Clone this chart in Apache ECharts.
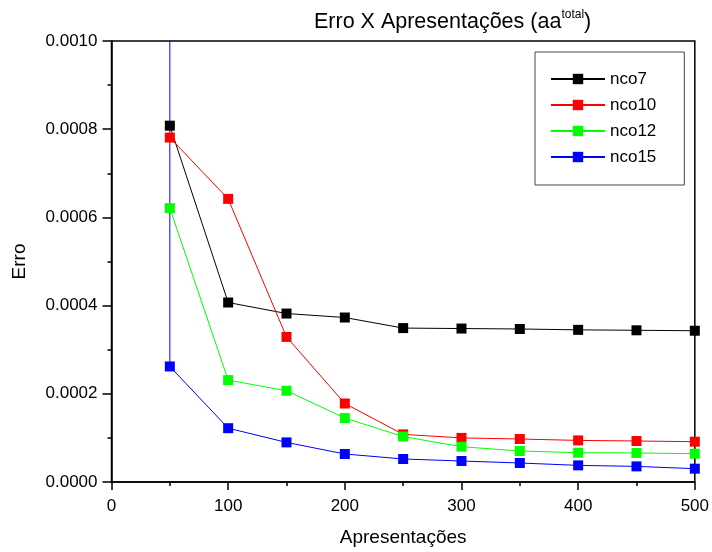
<!DOCTYPE html>
<html>
<head>
<meta charset="utf-8">
<script src="https://cdn.jsdelivr.net/npm/echarts@6/dist/echarts.min.js"></script>
<style>
  html, body { margin: 0; padding: 0; background: #fff; }
  #chart { width: 712px; height: 552px; }
</style>
</head>
<body>
<div id="chart"></div>
<script>
// x values (Apresentações)
var apresentacoes = [50, 100, 150, 200, 250, 300, 350, 400, 450, 500];

// erro per series
var nco7  = [0.000808, 0.000407, 0.000382, 0.000373, 0.000349, 0.000348, 0.000347, 0.000345, 0.000344, 0.000343];
var nco10 = [0.000781, 0.000642, 0.000329, 0.000178, 0.000108, 0.000100, 0.0000975, 0.0000943, 0.000093, 0.0000914];
var nco12 = [0.000621, 0.000231, 0.000207, 0.000145, 0.000103, 0.000080, 0.0000703, 0.0000664, 0.0000658, 0.0000642];
var nco15 = [0.000262, 0.000122, 0.0000898, 0.0000635, 0.0000522, 0.0000476, 0.0000431, 0.0000377, 0.0000354, 0.0000302];
// nco15 starts off the top of the plot at x = 50 (vertical line)
var nco15Start = [50, 0.0012];

var seriesNames = ['nco7', 'nco10', 'nco12', 'nco15'];
var seriesColors = ['#000000', '#ff0000', '#00ff00', '#0000ff'];

var xTicks = { min: 0, max: 500, interval: 100 };
var yTicks = { min: 0, max: 0.001, interval: 0.0002 };

function pairs(xs, ys) {
    return xs.map(function (x, i) { return [x, ys[i]]; });
}

var chart = echarts.init(document.getElementById('chart'), null, { renderer: 'canvas' });

var font = 'Liberation Sans, Arial, sans-serif';

var allData = [
    pairs(apresentacoes, nco7),
    pairs(apresentacoes, nco10),
    pairs(apresentacoes, nco12),
    [nco15Start].concat(pairs(apresentacoes, nco15))
];

var option = {
    backgroundColor: '#fff',
    animation: false,
    title: {
        text: '{m|Erro X Apresentações (aa}{s|total}{m|)}',
        left: 314,
        top: 9,
        padding: 0,
        textStyle: {
            fontWeight: 'normal',
            rich: {
                m: { fontFamily: font, fontSize: 21.5, fontWeight: 'normal', color: '#000', lineHeight: 26 },
                s: { fontFamily: font, fontSize: 12, fontWeight: 'normal', color: '#000', verticalAlign: 'top', lineHeight: 26, padding: [0, 0, 12, 0] }
            }
        }
    },
    legend: {
        orient: 'vertical',
        left: 535,
        top: 52,
        padding: [17, 28, 18, 15],
        itemGap: 6,
        itemWidth: 54,
        itemHeight: 13,
        borderColor: '#444',
        borderWidth: 1,
        data: seriesNames,
        textStyle: { fontFamily: font, fontSize: 17, color: '#000', lineHeight: 20 }
    },
    grid: {
        left: 111.5,
        right: 14.5,
        top: 41,
        bottom: 69.5,
        show: true,
        borderColor: '#000',
        borderWidth: 1.5
    },
    xAxis: {
        type: 'value',
        min: xTicks.min,
        max: xTicks.max,
        interval: xTicks.interval,
        name: 'Apresentações',
        nameLocation: 'middle',
        nameGap: 46,
        nameTextStyle: { fontFamily: font, fontSize: 19, color: '#000' },
        axisLine: { lineStyle: { color: '#000', width: 1.5 } },
        axisTick: { length: 8, lineStyle: { color: '#000', width: 1.5 } },
        minorTick: { show: true, splitNumber: 2, length: 4, lineStyle: { color: '#000', width: 1.5 } },
        axisLabel: { fontFamily: font, fontSize: 17, color: '#000', margin: 16 },
        splitLine: { show: false }
    },
    yAxis: {
        type: 'value',
        min: yTicks.min,
        max: yTicks.max,
        interval: yTicks.interval,
        name: 'Erro',
        nameLocation: 'middle',
        nameGap: 82,
        nameTextStyle: { fontFamily: font, fontSize: 19, color: '#000' },
        axisLine: { lineStyle: { color: '#000', width: 1.5 } },
        axisTick: { length: 9, lineStyle: { color: '#000', width: 1.5 } },
        minorTick: { show: true, splitNumber: 2, length: 4, lineStyle: { color: '#000', width: 1.5 } },
        axisLabel: {
            fontFamily: font, fontSize: 17, color: '#000', margin: 14,
            formatter: function (v) { return v.toFixed(4); }
        },
        splitLine: { show: false }
    },
    series: seriesNames.map(function (name, i) {
        return {
            name: name,
            type: 'line',
            data: allData[i],
            clip: true,
            symbol: 'rect',
            symbolSize: 10,
            showAllSymbol: true,
            lineStyle: { color: seriesColors[i], width: 1 },
            itemStyle: { color: seriesColors[i] }
        };
    })
};

chart.setOption(option);
</script>
</body>
</html>
